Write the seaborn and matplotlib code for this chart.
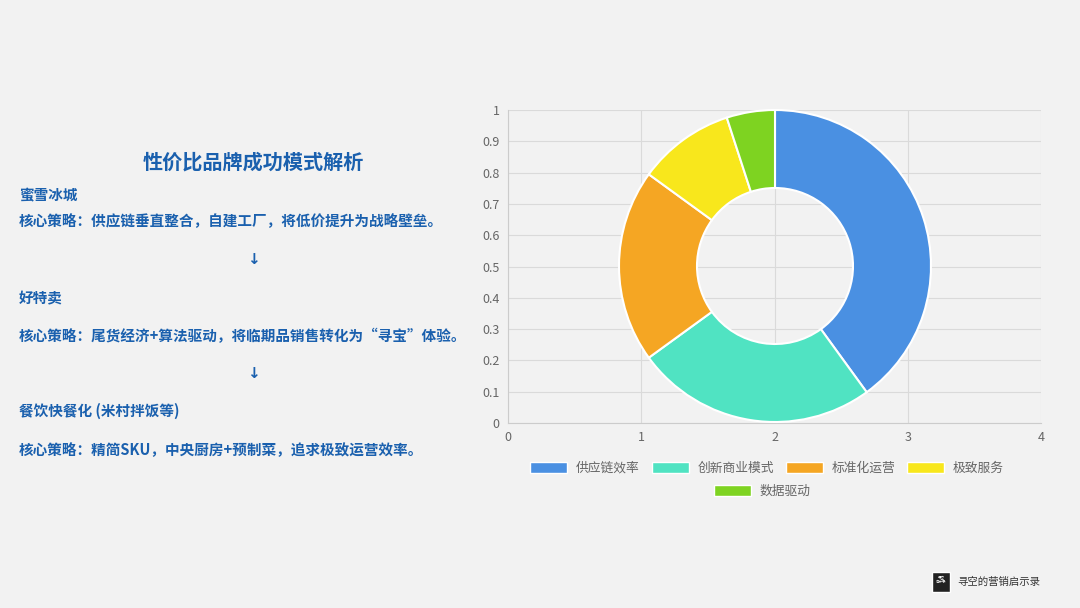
import seaborn as sns
import matplotlib.pyplot as plt
from matplotlib.patches import Patch

# datos del gráfico
categorias = ['供应链效率', '创新商业模式', '标准化运营', '极致服务', '数据驱动']
valores = [40, 25, 20, 10, 5]
colores = ['#4A90E2', '#50E3C2', '#F5A623', '#F8E71C', '#7ED321']
x_ticks = [0, 1, 2, 3, 4]
y_ticks = [0, 0.1, 0.2, 0.3, 0.4, 0.5, 0.6, 0.7, 0.8, 0.9, 1]
y_labels = ['0', '0.1', '0.2', '0.3', '0.4', '0.5', '0.6', '0.7', '0.8', '0.9', '1']

titulo = '性价比品牌成功模式解析'
lineas = [
    ('蜜雪冰城', 195),
    ('核心策略：供应链垂直整合，自建工厂，将低价提升为战略壁垒。', 221),
    ('好特卖', 298),
    ('核心策略：尾货经济+算法驱动，将临期品销售转化为“寻宝”体验。', 336),
    ('餐饮快餐化 (米村拌饭等)', 411),
    ('核心策略：精简SKU，中央厨房+预制菜，追求极致运营效率。', 450),
]
flechas = [259, 373]

bg = '#f2f2f2'
azul = '#1a60ae'
gris = '#666666'

sns.set_theme(style='whitegrid')
plt.rcParams['font.family'] = ['Noto Sans CJK SC', 'DejaVu Sans']

W, H = 1080, 608
fig = plt.figure(figsize=(W / 100, H / 100), dpi=100, facecolor=bg)

def fx(px):
    return px / W

def fy(py):
    return 1 - py / H

# ejes de fondo con la rejilla
ax = fig.add_axes([fx(508), fy(423), fx(1041) - fx(508), fy(110) - fy(423)])
ax.set_facecolor(bg)
ax.set_xlim(0, 4)
ax.set_ylim(0, 1)
ax.set_xticks(x_ticks)
ax.set_yticks(y_ticks)
ax.set_yticklabels(y_labels)
ax.grid(True, color='#dadada', linewidth=0.8)
for s in ['top', 'right']:
    ax.spines[s].set_visible(False)
for s in ['left', 'bottom']:
    ax.spines[s].set_color('#cccccc')
    ax.spines[s].set_linewidth(0.8)
ax.tick_params(axis='both', colors=gris, labelsize=9, length=0, pad=6)

# donut en ejes cuadrados superpuestos
cx, cy, r = 775, 266, 156
axp = fig.add_axes([fx(cx - r), fy(cy + r), 2 * r / W, 2 * r / H])
axp.set_facecolor('none')
axp.pie(valores, colors=colores, startangle=90, counterclock=False,
        radius=1, wedgeprops=dict(width=0.5, edgecolor='white', linewidth=1.5))
axp.set_xlim(-1.0, 1.0)
axp.set_ylim(-1.0, 1.0)
axp.set_aspect('equal')
axp.axis('off')

# leyenda en dos filas
handles = [Patch(facecolor=c, edgecolor='white', label=l) for c, l in zip(colores, categorias)]
opts = dict(frameon=False, fontsize=9.2, handlelength=2.9, handleheight=0.95,
            handletextpad=0.7, labelcolor=gris)
fig.legend(handles=handles[:4], loc='center', bbox_to_anchor=(fx(767), fy(468)),
           ncol=4, columnspacing=0.9, **opts)
fig.legend(handles=handles[4:], loc='center', bbox_to_anchor=(fx(762), fy(491)),
           ncol=1, **opts)

# texto de la izquierda
fig.text(fx(253), fy(162), titulo, ha='center', va='center', fontsize=14.5,
         fontweight='bold', color=azul)
for txt, y in lineas:
    fig.text(fx(19), fy(y), txt, ha='left', va='center', fontsize=10.5,
             fontweight='bold', color=azul)
for y in flechas:
    fig.text(fx(253), fy(y), '↓', ha='center', va='center', fontsize=11,
             fontweight='bold', color=azul, family=['DejaVu Sans'])

# marca de agua
fig.patches.append(plt.Rectangle((fx(932), fy(592)), fx(18), fy(572) - fy(592),
                                 transform=fig.transFigure, facecolor='#222222'))
fig.text(fx(941), fy(580), '寻空\n启示录', ha='center', va='center', fontsize=2.5,
         color='white', linespacing=1.2)
fig.text(fx(957), fy(582), '寻空的营销启示录', ha='left', va='center', fontsize=7.5,
         color='#333333')

fig.savefig('out.png', dpi=100, facecolor=bg)
